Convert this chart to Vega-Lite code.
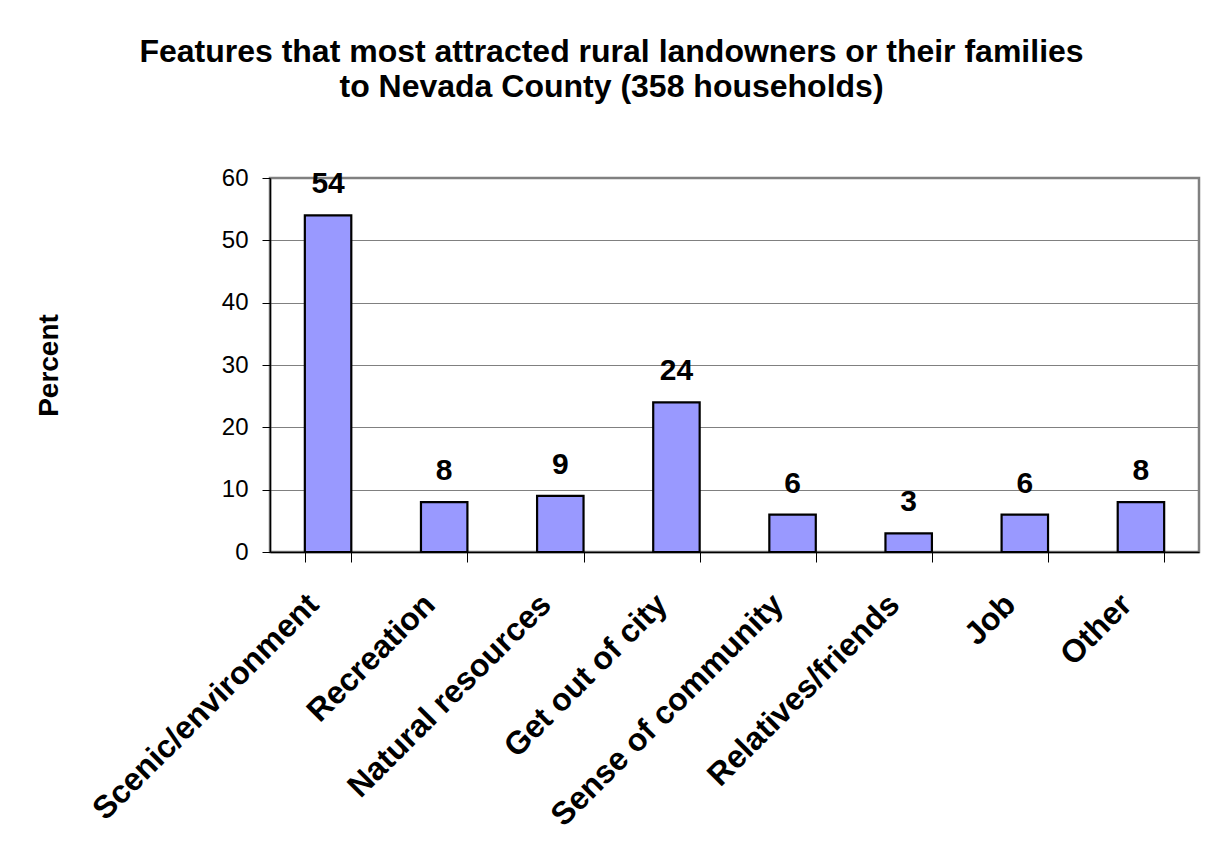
{
  "$schema": "https://vega.github.io/schema/vega-lite/v6.json",
  "width": 929,
  "height": 374,
  "padding": {"left": 35, "top": 36, "right": 15, "bottom": 5},
  "background": "white",
  "title": {
    "text": ["Features that most attracted rural landowners or their families", "to Nevada County (358 households)"],
    "font": "Liberation Sans",
    "fontSize": 32,
    "fontWeight": "bold",
    "lineHeight": 35,
    "color": "black",
    "anchor": "middle",
    "frame": "group",
    "dx": -123,
    "offset": 62
  },
  "data": {
    "values": [
      {"feature": "Scenic/environment", "percent": 54},
      {"feature": "Recreation", "percent": 8},
      {"feature": "Natural resources", "percent": 9},
      {"feature": "Get out of city", "percent": 24},
      {"feature": "Sense of community", "percent": 6},
      {"feature": "Relatives/friends", "percent": 3},
      {"feature": "Job", "percent": 6},
      {"feature": "Other", "percent": 8}
    ]
  },
  "encoding": {
    "x": {
      "field": "feature",
      "type": "nominal",
      "sort": null,
      "scale": {"paddingInner": 0.6, "paddingOuter": 0.3},
      "axis": {
        "title": null,
        "labelAngle": -45,
        "labelAlign": "right",
        "labelBaseline": "middle",
        "labelFont": "Liberation Sans",
        "labelFontSize": 32,
        "labelFontWeight": "bold",
        "labelColor": "black",
        "labelLimit": 0,
        "labelPadding": 37,
        "labelOffset": -15,
        "labelOverlap": false,
        "tickBand": "extent",
        "tickSize": 10,
        "tickColor": "black",
        "domainColor": "black",
        "domainWidth": 1.5,
        "grid": false
      }
    },
    "y": {
      "field": "percent",
      "type": "quantitative",
      "scale": {"domain": [0, 60], "nice": false},
      "axis": {
        "title": "Percent",
        "titleFont": "Liberation Sans",
        "titleFontSize": 28,
        "titleFontWeight": "bold",
        "titleColor": "black",
        "titlePadding": 158,
        "values": [0, 10, 20, 30, 40, 50, 60],
        "labelFont": "Liberation Sans",
        "labelFontSize": 24,
        "labelColor": "black",
        "labelPadding": 14,
        "tickSize": 8,
        "tickColor": "black",
        "domainColor": "black",
        "domainWidth": 1.5,
        "gridColor": "#808080",
        "gridWidth": 1.2
      }
    }
  },
  "layer": [
    {
      "mark": {"type": "bar", "fill": "#9999FF", "stroke": "black", "strokeWidth": 2.2}
    },
    {
      "mark": {
        "type": "text",
        "font": "Liberation Sans",
        "fontSize": 30,
        "fontWeight": "bold",
        "color": "black",
        "baseline": "alphabetic",
        "dy": -22
      },
      "encoding": {"text": {"field": "percent", "type": "quantitative"}}
    }
  ],
  "config": {
    "view": {"stroke": "#808080", "strokeWidth": 2.5}
  }
}
